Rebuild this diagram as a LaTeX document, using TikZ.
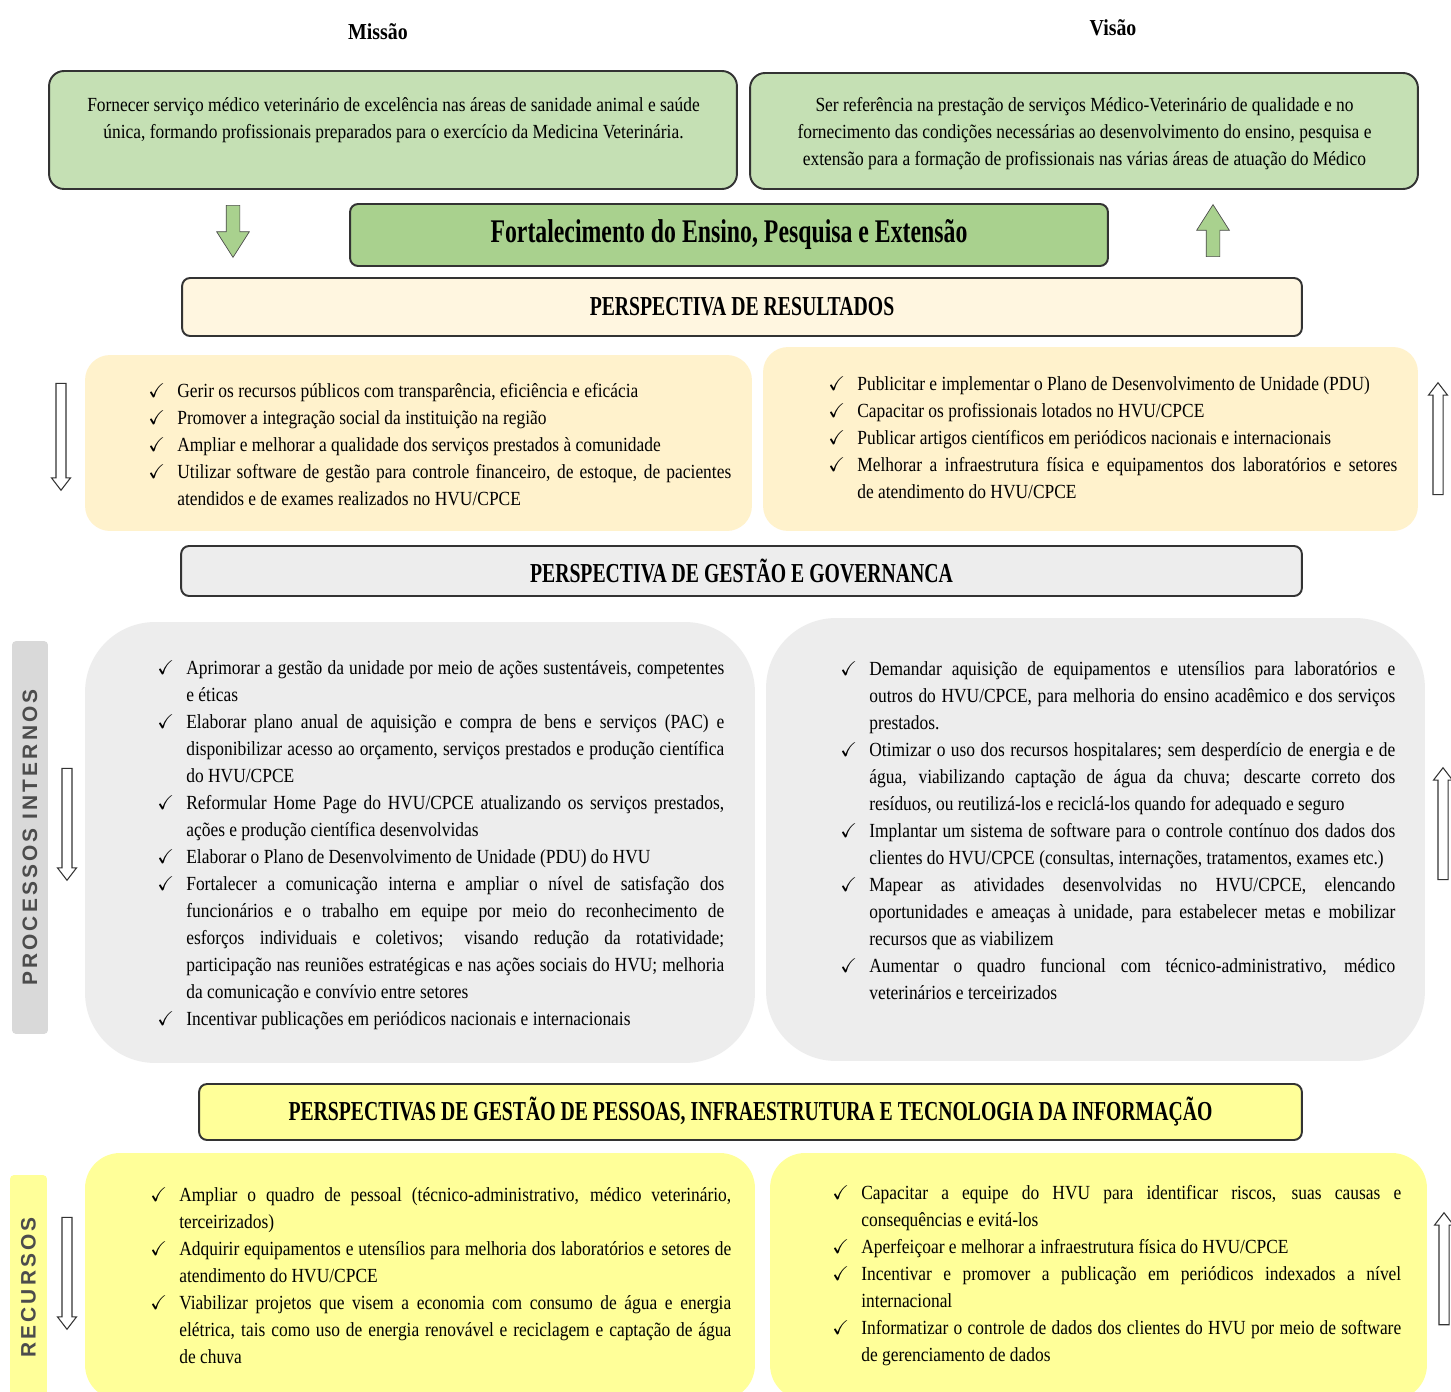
\documentclass[tikz,border=0pt]{standalone}
\usepackage{fontspec}
\usepackage{amssymb}
\setmainfont[FakeStretch=0.87]{Liberation Serif}
\newfontfamily\headfont[FakeStretch=0.72]{Liberation Serif}
\newfontfamily\labelfont[LetterSpace=15]{Liberation Sans}
\usetikzlibrary{shapes.arrows}
\definecolor{misgreen}{HTML}{C5E0B4}
\definecolor{strgreen}{HTML}{A9D18E}
\definecolor{resbarfill}{HTML}{FFF6E0}
\definecolor{resfill}{HTML}{FFF2CC}
\definecolor{gesfill}{HTML}{EDEDED}
\definecolor{labelgray}{HTML}{D9D9D9}
\definecolor{pesfill}{HTML}{FFFF99}
\newcommand{\chk}[1]{\par\noindent\hangindent=0.58cm\hangafter=1\makebox[0.58cm][l]{$\checkmark$}#1}

\begin{document}
\begin{tikzpicture}
  [x=0.02cm, y=-0.02cm,
   vbox/.style={draw=black!80, line width=1.1pt, rounded corners=0.3cm, inner sep=0pt},
   ttl/.style={font=\bfseries\fontsize{13}{15}\selectfont},
   bodytxt/.style={inner sep=0pt, font=\fontsize{11.4}{15.36}\selectfont},
   listtxt/.style={bodytxt, anchor=west, align=justify},
   bar/.style={draw=black!80, line width=1.1pt, rounded corners=0.16cm,
               font=\headfont\bfseries\fontsize{15.6}{18}\selectfont},
   panel/.style={inner sep=0pt},
   sidelabel/.style={rotate=90, rounded corners=0.08cm, inner sep=0pt, text=black!70,
                     font=\labelfont\bfseries\fontsize{11.9}{14}\selectfont},
   greenarrow/.style={single arrow, draw=black!70, fill=strgreen, minimum height=1.04cm,
                      minimum width=0.64cm, single arrow head extend=0.19cm,
                      single arrow tip angle=65, inner xsep=0pt, inner ysep=0.13cm},
   hollowarrow/.style={single arrow, draw=black!80, fill=white, line width=0.6pt,
                       minimum height=2.24cm, minimum width=0.36cm,
                       single arrow head extend=0.09cm, single arrow tip angle=75,
                       inner xsep=0pt, inner ysep=0.09cm}]
  \path[fill=white, use as bounding box] (0,0) rectangle (1451,1392);

  \node[ttl] (misttl) at (378,32) {Missão};
  \node[ttl] (vistl) at (1113,28) {Visão};
  \node[vbox, fill=misgreen, minimum width=13.76cm, minimum height=2.36cm] (mission) at (393,130) {};
  \node[vbox, fill=misgreen, minimum width=13.36cm, minimum height=2.32cm] (vision) at (1084,131) {};
  \node[bodytxt, align=center] (mistxt) at (393.5,120.5)
    {Fornecer serviço médico veterinário de excelência nas áreas de sanidade animal e saúde\\
     única, formando profissionais preparados para o exercício da Medicina Veterinária.};
  \node[bodytxt, align=center] (vistxt) at (1084.5,134)
    {Ser referência na prestação de serviços Médico-Veterinário de qualidade e no\\
     fornecimento das condições necessárias ao desenvolvimento do ensino, pesquisa e\\
     extensão para a formação de profissionais nas várias áreas de atuação do Médico};

  \node[vbox, fill=strgreen, rounded corners=0.16cm, minimum width=15.16cm, minimum height=1.24cm,
        font=\headfont\bfseries\fontsize{18.8}{22}\selectfont] (strength) at (729,235)
    {Fortalecimento do Ensino, Pesquisa e Extensão};
  \node[greenarrow, rotate=-90] (strdown) at (233,226) {};
  \node[greenarrow, rotate=90] (strup) at (1213,236) {};

  \node[bar, fill=resbarfill, minimum width=22.4cm, minimum height=1.16cm] (resbar) at (742,307)
    {PERSPECTIVA DE RESULTADOS};
  \node[panel, fill=resfill, rounded corners=0.5cm, minimum width=13.34cm, minimum height=3.52cm] (resleft) at (418.5,443) {};
  \node[panel, fill=resfill, rounded corners=0.5cm, minimum width=13.1cm, minimum height=3.68cm] (resright) at (1090.5,439) {};
  \node[listtxt, text width=11.66cm] (reslefttxt) at (148,438)
    {\chk{Gerir os recursos públicos com transparência, eficiência e eficácia}
     \chk{Promover a integração social da instituição na região}
     \chk{Ampliar e melhorar a qualidade dos serviços prestados à comunidade}
     \chk{Utilizar software de gestão para controle financeiro, de estoque, de pacientes \linebreak
          atendidos e de exames realizados no HVU/CPCE}\par};
  \node[listtxt, text width=11.38cm] (resrighttxt) at (828,431.5)
    {\chk{Publicitar e implementar o Plano de Desenvolvimento de Unidade (PDU)}
     \chk{Capacitar os profissionais lotados no HVU/CPCE}
     \chk{Publicar artigos científicos em periódicos nacionais e internacionais}
     \chk{Melhorar a infraestrutura física e equipamentos dos laboratórios e setores \linebreak
          de atendimento do HVU/CPCE}\par};
  \node[hollowarrow, rotate=-90, minimum height=2.14cm] (resdown) at (61,433.5) {};
  \node[hollowarrow, rotate=90] (resup) at (1438,442) {};

  \node[bar, fill=gesfill, minimum width=22.42cm, minimum height=1cm] (gesbar) at (741.5,571)
    {PERSPECTIVA DE GESTÃO E GOVERNANCA};
  \node[sidelabel, fill=labelgray, minimum width=7.86cm, minimum height=0.72cm] (proclabel) at (30,837.5)
    {PROCESSOS INTERNOS};
  \node[panel, fill=gesfill, rounded corners=1.4cm, minimum width=13.4cm, minimum height=8.82cm] (gesleft) at (420,842.5) {};
  \node[panel, fill=gesfill, rounded corners=1.4cm, minimum width=13.18cm, minimum height=8.86cm] (gesright) at (1095.5,839.5) {};
  \node[listtxt, text width=11.34cm] (geslefttxt) at (157,839)
    {\chk{Aprimorar a gestão da unidade por meio de ações sustentáveis, competentes \linebreak
          e éticas}
     \chk{Elaborar plano anual de aquisição e compra de bens e serviços (PAC) e \linebreak
          disponibilizar acesso ao orçamento, serviços prestados e produção científica \linebreak
          do HVU/CPCE}
     \chk{Reformular Home Page do HVU/CPCE atualizando os serviços prestados, \linebreak
          ações e produção científica desenvolvidas}
     \chk{Elaborar o Plano de Desenvolvimento de Unidade (PDU) do HVU}
     \chk{Fortalecer a comunicação interna e ampliar o nível de satisfação dos \linebreak
          funcionários e o trabalho em equipe por meio do reconhecimento de \linebreak
          esforços individuais e coletivos; visando redução da rotatividade; \linebreak
          participação nas reuniões estratégicas e nas ações sociais do HVU; melhoria \linebreak
          da comunicação e convívio entre setores}
     \chk{Incentivar publicações em periódicos nacionais e internacionais}\par};
  \node[listtxt, text width=11.1cm] (gesrighttxt) at (840,824)
    {\chk{Demandar aquisição de equipamentos e utensílios para laboratórios e \linebreak
          outros do HVU/CPCE, para melhoria do ensino acadêmico e dos serviços \linebreak
          prestados.}
     \chk{Otimizar o uso dos recursos hospitalares; sem desperdício de energia e de \linebreak
          água, viabilizando captação de água da chuva; descarte correto dos \linebreak
          resíduos, ou reutilizá-los e reciclá-los quando for adequado e seguro}
     \chk{Implantar um sistema de software para o controle contínuo dos dados dos \linebreak
          clientes do HVU/CPCE (consultas, internações, tratamentos, exames etc.)}
     \chk{Mapear as atividades desenvolvidas no HVU/CPCE, elencando \linebreak
          oportunidades e ameaças à unidade, para estabelecer metas e mobilizar \linebreak
          recursos que as viabilizem}
     \chk{Aumentar o quadro funcional com técnico-administrativo, médico \linebreak
          veterinários e terceirizados}\par};
  \node[hollowarrow, rotate=-90] (gesdown) at (67,821) {};
  \node[hollowarrow, rotate=90] (gesup) at (1443,827) {};

  \node[bar, fill=pesfill, minimum width=22.06cm, minimum height=1.12cm] (pesbar) at (750.5,1112)
    {PERSPECTIVAS DE GESTÃO DE PESSOAS, INFRAESTRUTURA E TECNOLOGIA DA INFORMAÇÃO};
  \node[sidelabel, fill=pesfill, minimum width=4.5cm, minimum height=0.74cm] (reclabel) at (28.5,1287.5)
    {RECURSOS};
  \node[panel, fill=pesfill, rounded corners=0.7cm, minimum width=13.4cm, minimum height=4.94cm] (recleft) at (420,1276.5) {};
  \node[panel, fill=pesfill, rounded corners=0.7cm, minimum width=13.14cm, minimum height=4.94cm] (recright) at (1098.5,1276.5) {};
  \node[listtxt, text width=11.62cm] (reclefttxt) at (150,1269)
    {\chk{Ampliar o quadro de pessoal (técnico-administrativo, médico veterinário, \linebreak
          terceirizados)}
     \chk{Adquirir equipamentos e utensílios para melhoria dos laboratórios e setores de \linebreak
          atendimento do HVU/CPCE}
     \chk{Viabilizar projetos que visem a economia com consumo de água e energia \linebreak
          elétrica, tais como uso de energia renovável e reciclagem e captação de água \linebreak
          de chuva}\par};
  \node[listtxt, text width=11.38cm] (recrighttxt) at (832,1269)
    {\chk{Capacitar a equipe do HVU para identificar riscos, suas causas e \linebreak
          consequências e evitá-los}
     \chk{Aperfeiçoar e melhorar a infraestrutura física do HVU/CPCE}
     \chk{Incentivar e promover a publicação em periódicos indexados a nível \linebreak
          internacional}
     \chk{Informatizar o controle de dados dos clientes do HVU por meio de software \linebreak
          de gerenciamento de dados}\par};
  \node[hollowarrow, rotate=-90] (recdown) at (67,1270) {};
  \node[hollowarrow, rotate=90] (recup) at (1444,1272) {};
\end{tikzpicture}
\end{document}
